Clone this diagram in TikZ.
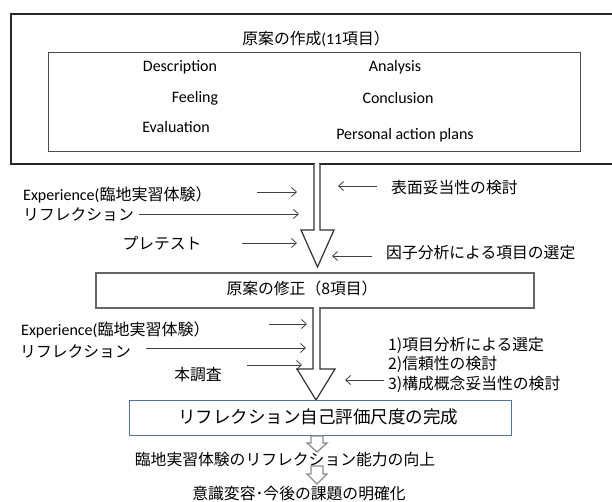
\documentclass[tikz,border=0pt]{standalone}
\usepackage{fontspec}
\setmainfont{Carlito}
\newfontfamily\jp{Noto Sans CJK JP}
\usetikzlibrary{arrows.meta,shadows}
\begin{document}
\begin{tikzpicture}[x=1pt,y=-1pt,
  lab/.style={inner sep=0pt, font=\fontsize{16}{19}\selectfont},
  jlab/.style={inner sep=0pt, font=\jp\fontsize{15.8}{19}\selectfont},
  thin/.style={draw=black!75, line width=0.8pt, -{Straight Barb[length=5pt,width=9pt]}},
  hollow/.style={draw=black!80, line width=1.2pt, fill=white},
  small/.style={draw=black!45, line width=1.3pt, fill=white},
]
\useasboundingbox (0,0) rectangle (612,502);
\fill[white] (0,0) rectangle (612,502);

% outer box
\draw[line width=1.5pt, draw=black!85] (11,14) rectangle (630,164);
\node[jlab] (title) at (316,39) {原案の作成{\rmfamily (11}項目）};
\draw[line width=1pt, draw=black!70] (48,53) rectangle (580,152);
\node[lab] (desc) at (180,67) {Description};
\node[lab] (anal) at (395,67) {Analysis};
\node[lab] (feel) at (195,98) {Feeling};
\node[lab] (conc) at (398,98) {Conclusion};
\node[lab] (eval) at (176,127) {Evaluation};
\node[lab] (pap) at (405,135) {Personal action plans};

% hollow arrow 1
\fill[white] (314.7,162) rectangle (319.3,166);
\draw[hollow] (314,164) -- (314,230) -- (301,230) -- (317.5,267) -- (334,230) -- (320,230) -- (320,164);

% left labels 1
\node[lab, anchor=west] (exp1) at (23,195) {Experience({\jp 臨地実習体験）}};
\node[jlab, anchor=west] (ref1) at (23,215) {リフレクション};
\node[jlab] (pre) at (162,243) {プレテスト};
\coordinate (a1s) at (257,192); \coordinate (a1e) at (297,192);
\coordinate (a2s) at (139,214); \coordinate (a2e) at (299,214);
\coordinate (a3s) at (242,243); \coordinate (a3e) at (297,243);
\draw[thin] (a1s) -- (a1e);
\draw[thin] (a2s) -- (a2e);
\draw[thin] (a3s) -- (a3e);

% right labels 1
\node[jlab, anchor=west] (face) at (391,188) {表面妥当性の検討};
\node[jlab, anchor=west] (fact) at (386,253) {因子分析による項目の選定};
\coordinate (r1s) at (377,186); \coordinate (r1e) at (338,186);
\coordinate (r2s) at (372,256); \coordinate (r2e) at (332,256);
\draw[thin] (r1s) -- (r1e);
\draw[thin] (r2s) -- (r2e);

% box 2
\node[draw=black!60, line width=1.5pt, fill=white, minimum width=438pt, minimum height=35pt, inner sep=0pt,
  drop shadow={opacity=0.15, shadow xshift=1pt, shadow yshift=-1pt}] (box2) at (315,290.5) {};
\node[jlab] (box2t) at (302,288) {原案の修正（8項目）};

% hollow arrow 2
\fill[white] (313.7,306.5) rectangle (319.3,310);
\draw[hollow] (313,308) -- (313,369) -- (297,369) -- (316,400) -- (335,369) -- (320,369) -- (320,308);

% left labels 2
\node[lab, anchor=west] (exp2) at (21,330) {Experience({\jp 臨地実習体験）}};
\node[jlab, anchor=west] (ref2) at (20,352) {リフレクション};
\node[jlab] (main) at (198,375) {本調査};
\coordinate (b1s) at (269,324); \coordinate (b1e) at (307,324);
\coordinate (b2s) at (146,348); \coordinate (b2e) at (306,348);
\coordinate (b3s) at (247,365); \coordinate (b3e) at (302,365);
\draw[thin] (b1s) -- (b1e);
\draw[thin] (b2s) -- (b2e);
\draw[thin] (b3s) -- (b3e);

% right labels 2
\node[jlab, anchor=west] (i1) at (388,345) {1)項目分析による選定};
\node[jlab, anchor=west] (i2) at (388,364) {2)信頼性の検討};
\node[jlab, anchor=west] (i3) at (388,384) {3)構成概念妥当性の検討};
\coordinate (r3s) at (384,380); \coordinate (r3e) at (345,380);
\draw[thin] (r3s) -- (r3e);

% box 3
\node[draw={rgb,255:red,79;green,114;blue,170}, line width=1pt, fill=white, minimum width=382pt, minimum height=35pt, inner sep=0pt] (box3) at (320,417.5) {};
\node[inner sep=0pt, font=\jp\fontsize{17.5}{20}\selectfont] (box3t) at (318,417) {リフレクション自己評価尺度の完成};

% small arrows
\draw[small] (311,436) -- (311,443) -- (307,443) -- (317,452) -- (327,443) -- (323,443) -- (323,436) -- cycle;
\node[jlab] (out1) at (285,460) {臨地実習体験のリフレクション能力の向上};
\draw[small] (311,466) -- (311,474) -- (307,474) -- (317,484) -- (327,474) -- (323,474) -- (323,466) -- cycle;
\node[jlab] (out2) at (299,494) {意識変容･今後の課題の明確化};
\end{tikzpicture}
\end{document}
